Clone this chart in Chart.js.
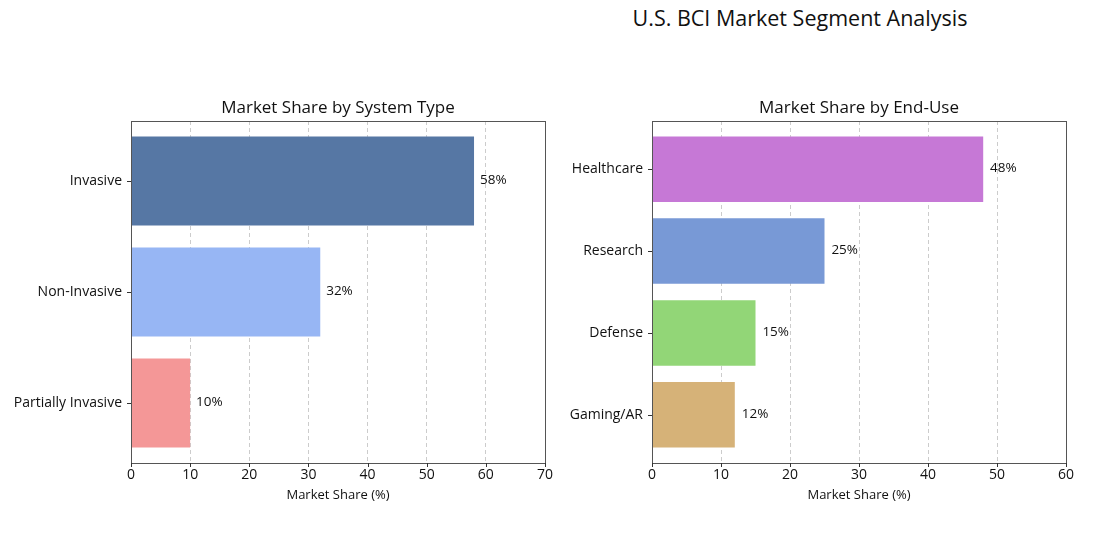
<!DOCTYPE html>
<html>
<head>
<meta charset="utf-8">
<script src="https://cdn.jsdelivr.net/npm/chart.js@4"></script>
<style>
  body { margin: 0; background: #fff; width: 1115px; height: 533px; position: relative; overflow: hidden; font-family: "Open Sans", sans-serif; }
  #main-title { position: absolute; top: 3px; left: 550px; width: 500px; text-align: center; font-size: 21.5px; color: #111; }
  .box { position: absolute; top: 90px; height: 425px; }
</style>
</head>
<body>
<div id="main-title">U.S. BCI Market Segment Analysis</div>
<div class="box" style="left:0; width:560px;"><canvas id="type-chart"></canvas></div>
<div class="box" style="left:560px; width:555px;"><canvas id="use-chart"></canvas></div>
<script>
const FONT = '"Open Sans", sans-serif';

// System type panel
const typeLabels = ['Invasive', 'Non-Invasive', 'Partially Invasive'];
const typeValues = [58, 32, 10];
const typeColors = ['#5677a4', '#97b6f4', '#f49797'];

// End-use panel
const useLabels = ['Healthcare', 'Research', 'Defense', 'Gaming/AR'];
const useValues = [48, 25, 15, 12];
const useColors = ['#c678d6', '#7899d6', '#92d677', '#d6b278'];

// draws the matplotlib-ish frame, tick marks, titles and value labels
const framePlugin = {
    id: 'frame',
    afterDraw(chart, args, opts) {
        const ctx = chart.ctx;
        const area = chart.chartArea;
        const xs = chart.scales.x;
        const ys = chart.scales.y;
        ctx.save();

        // spines
        ctx.strokeStyle = '#555';
        ctx.lineWidth = 1;
        ctx.strokeRect(area.left + 0.5, area.top + 0.5, area.right - area.left, area.bottom - area.top);

        // tick marks
        ctx.strokeStyle = '#333';
        ctx.beginPath();
        xs.ticks.forEach(t => {
            const px = Math.round(xs.getPixelForValue(t.value)) + 0.5;
            ctx.moveTo(px, area.bottom);
            ctx.lineTo(px, area.bottom + 4);
        });
        ys.ticks.forEach(t => {
            const py = Math.round(ys.getPixelForValue(t.value)) + 0.5;
            ctx.moveTo(area.left, py);
            ctx.lineTo(area.left - 4, py);
        });
        ctx.stroke();

        // value labels
        ctx.fillStyle = '#111';
        ctx.font = '13.5px ' + FONT;
        ctx.textAlign = 'left';
        ctx.textBaseline = 'middle';
        const ds = chart.data.datasets[0];
        chart.getDatasetMeta(0).data.forEach((bar, i) => {
            const v = ds.data[i].x;
            ctx.fillText(v + '%', xs.getPixelForValue(v + 1), bar.y - 1);
        });

        // subplot title
        const cx = (area.left + area.right) / 2;
        ctx.textAlign = 'center';
        ctx.font = '17px ' + FONT;
        ctx.fillText(opts.title, cx, area.top - 13);

        // x axis label
        ctx.font = '13px ' + FONT;
        ctx.fillText('Market Share (%)', cx, area.bottom + 32);
        ctx.restore();
    }
};

function makeChart(id, labels, values, colors, xMax, margin, axisWidth, rightPad, title) {
    const ctx = document.getElementById(id).getContext('2d');
    const n = labels.length;
    return new Chart(ctx, {
        type: 'bar',
        data: {
            datasets: [{
                data: values.map((v, i) => ({ x: v, y: i })),
                backgroundColor: colors,
                borderWidth: 0,
                barPercentage: 0.8,
                categoryPercentage: 1.0
            }]
        },
        options: {
            indexAxis: 'y',
            responsive: true,
            maintainAspectRatio: false,
            animation: false,
            layout: { padding: { top: 31, right: rightPad, left: 0, bottom: 0 } },
            scales: {
                x: {
                    type: 'linear',
                    min: 0,
                    max: xMax,
                    ticks: { stepSize: 10, color: '#111', font: { family: FONT, size: 14 }, padding: 4 },
                    grid: { color: '#cccccc', lineWidth: 1, drawTicks: false },
                    border: { display: false, dash: [4, 3] },
                    afterFit: s => { s.height = 52; }
                },
                y: {
                    type: 'linear',
                    reverse: true,
                    offset: false,
                    min: -margin,
                    max: n - 1 + margin,
                    afterBuildTicks: s => { s.ticks = labels.map((l, i) => ({ value: i })); },
                    ticks: {
                        color: '#111',
                        font: { family: FONT, size: 14 },
                        padding: 9,
                        callback: v => labels[v]
                    },
                    grid: { display: false, drawTicks: false },
                    border: { display: false },
                    afterFit: s => { s.width = axisWidth; }
                }
            },
            plugins: {
                legend: { display: false },
                tooltip: { enabled: false },
                frame: { title: title }
            }
        },
        plugins: [framePlugin]
    });
}

makeChart('type-chart', typeLabels, typeValues, typeColors, 70, 0.54, 131, 15, 'Market Share by System Type');
makeChart('use-chart', useLabels, useValues, useColors, 60, 0.59, 92, 49, 'Market Share by End-Use');
</script>
</body>
</html>
